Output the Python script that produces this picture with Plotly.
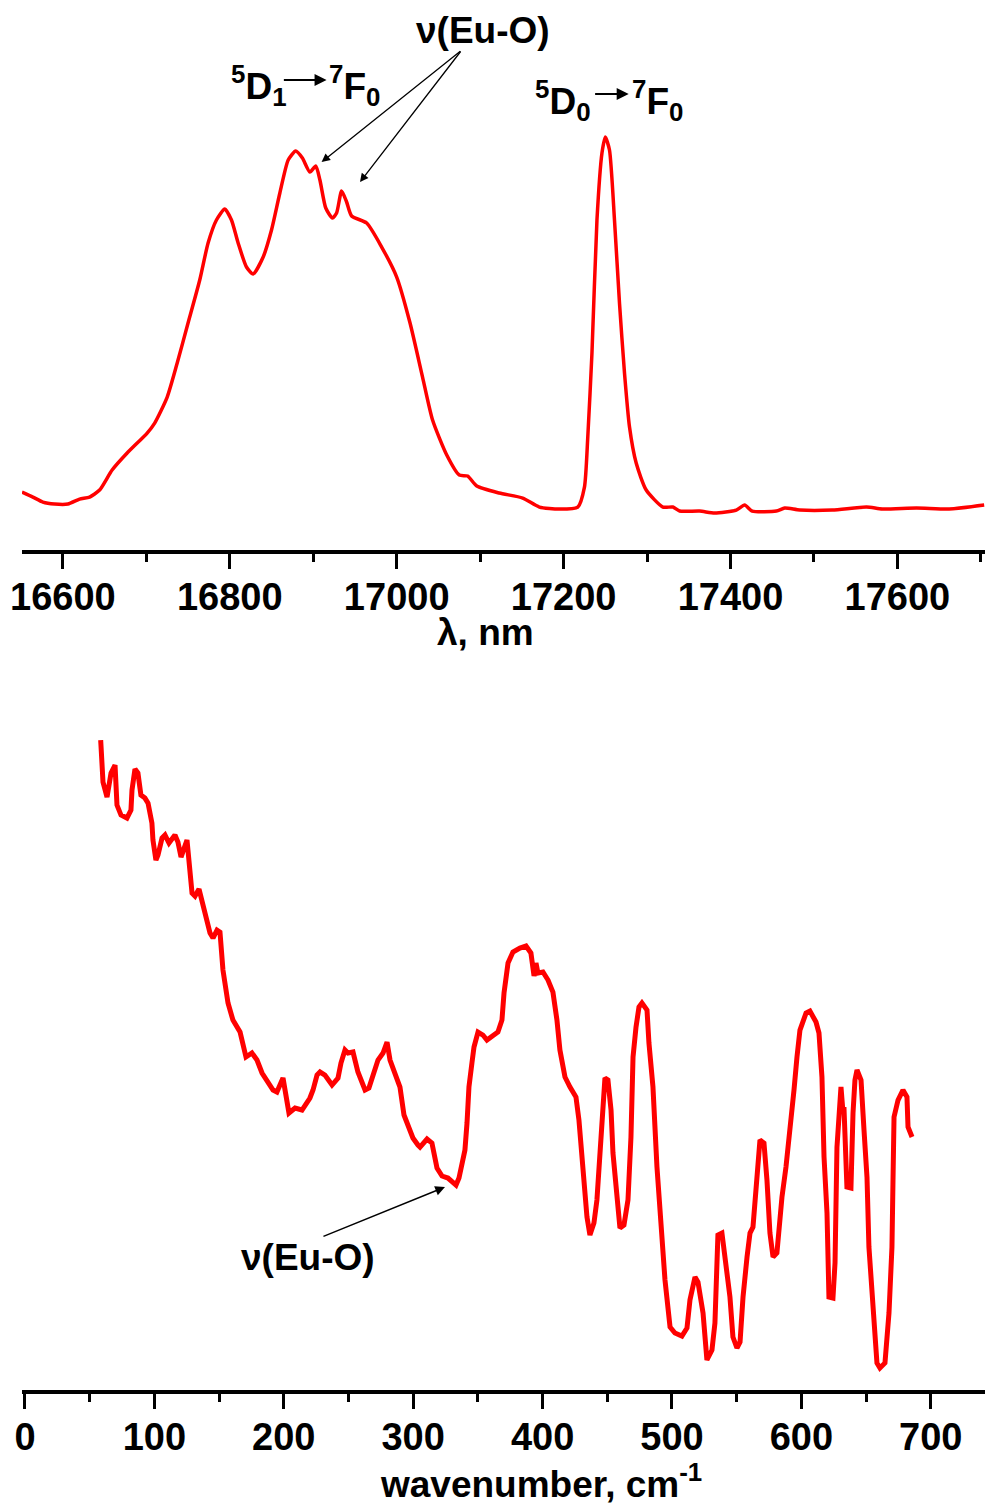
import plotly.graph_objects as go

# ---------------- data: emission spectrum (top) ----------------
lam_nm = [16551, 16564, 16576, 16590, 16606, 16620, 16632, 16644, 16659, 16677,
          16701, 16710, 16725, 16737, 16750, 16764, 16774, 16784, 16794, 16802,
          16810, 16820, 16828, 16840, 16850, 16860, 16870, 16879, 16887, 16896,
          16903, 16908, 16915, 16923, 16928, 16934, 16940, 16946, 16964, 16982,
          17000, 17016, 17031, 17043, 17060, 17075, 17085, 17096, 17123, 17151,
          17171, 17195, 17217, 17225, 17229, 17234, 17240, 17246, 17250, 17255,
          17261, 17267, 17273, 17279, 17287, 17299, 17319, 17331, 17339, 17363,
          17381, 17407, 17417, 17426, 17455, 17465, 17483, 17522, 17563, 17582,
          17623, 17662, 17704]
emission = [58, 53, 48, 46, 46, 51, 53, 60, 80, 97,
            117, 127, 153, 187, 227, 270, 307, 330, 341, 330,
            307, 283, 276, 293, 320, 357, 390, 399, 392, 378,
            384, 370, 342, 332, 337, 359, 348, 334, 327, 303,
            273, 227, 173, 130, 95, 75, 74, 64, 57, 52,
            43, 41, 43, 63, 113, 197, 330, 397, 413, 400,
            330, 247, 177, 123, 87, 60, 43, 43, 39, 39,
            37, 40, 45, 39, 39, 42, 40, 40, 43, 41,
            42, 41, 45]

# ---------------- data: IR spectrum (bottom) ----------------
wavenumber = [58.5, 60.3, 63.4, 66.5, 69.6, 71.1, 74.2, 78.8, 81.9, 82.7,
              85.0, 87.3, 89.6, 92.7, 95.1, 98.1, 98.9, 101.2, 102.8, 105.9,
              108.2, 111.3, 115.9, 118.2, 120.6, 122.1, 125.2, 129.1, 131.4, 134.5,
              139.1, 143.0, 145.3, 148.4, 150.7, 153.0, 156.9, 160.7, 166.2, 170.8,
              175.4, 179.3, 183.2, 187.8, 191.7, 194.7, 199.4, 204.0, 208.7, 214.1,
              220.2, 222.6, 225.7, 228.0, 231.8, 237.3, 241.9, 244.2, 247.3, 249.6,
              253.5, 257.3, 262.8, 265.8, 269.7, 272.8, 276.7, 279.8, 282.1, 285.9,
              289.8, 292.9, 296.0, 299.8, 303.7,
              305.3, 310.7, 314.5, 318.4, 322.3, 326.9, 333.1, 335.4, 337.7, 340.0,
              341.6, 343.1, 345.4, 347.0, 350.1, 353.9, 357.0, 360.9, 365.5, 368.6,
              370.2, 373.3, 377.1, 382.5, 387.2, 391.0, 393.4, 394.9, 396.4, 400.3,
              404.2, 408.0, 411.1, 413.4, 417.3, 421.2, 425.8, 428.1, 431.2, 434.3,
              436.6, 439.7, 442.0, 444.4, 446.7, 448.2, 450.5, 452.9, 454.4, 457.5,
              459.8, 462.9, 466.0, 468.3, 469.9, 472.2, 474.5, 476.8, 480.7, 482.2,
              485.3, 488.4, 491.5, 494.6, 498.5, 502.3, 507.7, 511.6, 513.9, 516.2,
              517.8, 520.1,
              522.4, 524.0, 527.0, 530.9, 533.2, 534.8, 535.5, 538.6, 541.0, 544.8,
              547.1, 550.2, 552.6, 554.9, 558.0, 560.3, 562.6, 564.9, 568.0, 571.1,
              573.4, 575.7, 578.1, 581.1, 585.0, 588.1, 591.2, 594.3, 596.6, 598.9,
              603.6, 606.6, 611.3, 613.6, 615.9, 617.5, 619.8, 621.3, 624.4, 626.0,
              627.5, 630.6, 632.2, 632.9, 635.2, 638.3, 639.9, 641.4, 643.0, 646.1,
              648.4, 650.7, 652.2, 655.3, 658.4, 660.7, 664.6, 667.7, 670.0, 670.8,
              671.6, 674.7, 678.5, 681.6, 682.4, 685.5]
ir_signal = [650, 608, 593, 617, 625, 585, 575, 572, 580, 600,
             621, 617, 595, 592, 587, 567, 550, 530, 535, 552,
             555, 547, 555, 548, 533, 538, 550, 497, 494, 501,
             475, 457, 452, 460, 458, 420, 387, 370, 358, 333,
             337, 330, 317, 307, 300, 298, 312, 277, 282, 280,
             292, 300, 315, 318, 315, 305, 312, 327, 340, 337,
             338, 318, 300, 302, 318, 330, 337, 348, 330, 317,
             303, 275, 263, 252, 245,
             243, 251, 247, 222, 214, 212, 205, 212, 227, 240,
             267, 303, 327, 343, 358, 355, 350, 354, 358, 370,
             397, 427, 438, 442, 444, 437, 414, 427, 417, 418,
             410, 398, 370, 340, 313, 303, 293, 270, 213, 173,
             155, 167, 190, 243, 283, 312, 310, 280, 237, 190,
             162, 165, 190, 253, 333, 363, 383, 387, 380, 347,
             303, 223, 157, 110, 63, 57, 54, 62, 90, 105,
             113, 108,
             87, 77, 30, 40, 67, 130, 155, 157, 133, 93,
             53, 42, 48, 93, 133, 157, 163, 207, 250, 247,
             210, 157, 133, 137, 193, 223, 257, 300, 333, 360,
             377, 379, 368, 357, 313, 233, 177, 93, 92, 127,
             243, 303, 277, 283, 203, 202, 277, 310, 320, 310,
             260, 213, 143, 77, 27, 22, 27, 77, 143, 210,
             273, 290, 300, 293, 263, 253]

top_ticks = [16600, 16800, 17000, 17200, 17400, 17600]
bottom_ticks = [0, 100, 200, 300, 400, 500, 600, 700]

RED = "#FF0000"
FONT = "Liberation Sans, Arial, sans-serif"
FS_TICK = 38
FS = 37

fig = go.Figure()
fig.add_trace(go.Scatter(x=lam_nm, y=emission, mode="lines",
                         line=dict(color=RED, width=3.5, shape="spline", smoothing=0.6),
                         xaxis="x", yaxis="y", showlegend=False, hoverinfo="skip"))
fig.add_trace(go.Scatter(x=wavenumber, y=ir_signal, mode="lines",
                         line=dict(color=RED, width=5),
                         xaxis="x2", yaxis="y2", showlegend=False, hoverinfo="skip"))

axis_common = dict(showline=True, linewidth=4, linecolor="black", mirror=False,
                   ticks="outside", ticklen=15, tickwidth=3, tickcolor="black",
                   showgrid=False, zeroline=False, ticklabelstandoff=-5,
                   tickfont=dict(family=FONT, size=FS_TICK, color="black", weight="bold"))

fig.update_layout(
    width=985, height=1508,
    margin=dict(l=22, r=0, t=20, b=118),
    paper_bgcolor="white", plot_bgcolor="white",
    xaxis=dict(range=[16551, 17705], tickmode="array", tickvals=top_ticks,
               ticktext=[str(v) for v in top_ticks], anchor="y",
               minor=dict(tickmode="linear", tick0=16600, dtick=100, ticks="outside",
                          ticklen=8, tickwidth=3, tickcolor="black"),
               **axis_common),
    yaxis=dict(domain=[0.6131, 1.0], range=[0, 530], visible=False),
    xaxis2=dict(range=[-2.3, 741.9], tickmode="array", tickvals=bottom_ticks,
                ticktext=[str(v) for v in bottom_ticks], anchor="y2",
                minor=dict(tickmode="linear", tick0=0, dtick=50, ticks="outside",
                           ticklen=8, tickwidth=3, tickcolor="black"),
                **axis_common),
    yaxis2=dict(domain=[0.0, 0.5036], range=[0, 690], visible=False),
)

tf = dict(family=FONT, size=FS, color="black", weight="bold")
ann = []
# axis titles
ann.append(dict(text="λ, nm", xref="paper", yref="paper", x=0.4818, y=0.5526,
                xanchor="center", yanchor="middle", showarrow=False, font=tf))
ann.append(dict(text="wavenumber, cm<sup>-1</sup>", xref="paper", yref="paper",
                x=0.539, y=-0.067, xanchor="center", yanchor="middle",
                showarrow=False, font=tf))
# top labels
ann.append(dict(text="ν(Eu-O)", xref="x", yref="y", x=17103, y=520,
                xanchor="center", yanchor="middle", showarrow=False, font=tf))
for tip in [(16910, 388), (16956, 368)]:
    ann.append(dict(text="", xref="x", yref="y", x=tip[0], y=tip[1],
                    axref="x", ayref="y", ax=17078, ay=500, showarrow=True,
                    arrowhead=2, arrowsize=1.3, arrowwidth=1.3, arrowcolor="black"))
# 5D1 -> 7F0
ann.append(dict(text="<sup>5</sup>D<sub>1</sub>", xref="x", yref="y", x=16871, y=465,
                xanchor="right", yanchor="middle", showarrow=False, font=tf))
ann.append(dict(text="", xref="x", yref="y", x=16916, y=470, axref="x", ayref="y",
                ax=16863, ay=470, showarrow=True, arrowhead=2, arrowsize=1.2,
                arrowwidth=2, arrowcolor="black"))
ann.append(dict(text="<sup>7</sup>F<sub>0</sub>", xref="x", yref="y", x=16917, y=465,
                xanchor="left", yanchor="middle", showarrow=False, font=tf))
# 5D0 -> 7F0
ann.append(dict(text="<sup>5</sup>D<sub>0</sub>", xref="x", yref="y", x=17235, y=450,
                xanchor="right", yanchor="middle", showarrow=False, font=tf))
ann.append(dict(text="", xref="x", yref="y", x=17278, y=456, axref="x", ayref="y",
                ax=17236, ay=456, showarrow=True, arrowhead=2, arrowsize=1.2,
                arrowwidth=2, arrowcolor="black"))
ann.append(dict(text="<sup>7</sup>F<sub>0</sub>", xref="x", yref="y", x=17279, y=450,
                xanchor="left", yanchor="middle", showarrow=False, font=tf))
# bottom label
ann.append(dict(text="ν(Eu-O)", xref="x2", yref="y2", x=218.7, y=133,
                xanchor="center", yanchor="middle", showarrow=False, font=tf))
ann.append(dict(text="", xref="x2", yref="y2", x=324.6, y=203, axref="x2", ayref="y2",
                ax=229.5, ay=153, showarrow=True, arrowhead=2, arrowsize=1.3,
                arrowwidth=1.5, arrowcolor="black"))
fig.update_layout(annotations=ann)

fig.write_html("out.html",
               config={"displayModeBar": False},
               post_script="document.body.style.margin='0px';"
                           "document.body.style.overflow='hidden';")
